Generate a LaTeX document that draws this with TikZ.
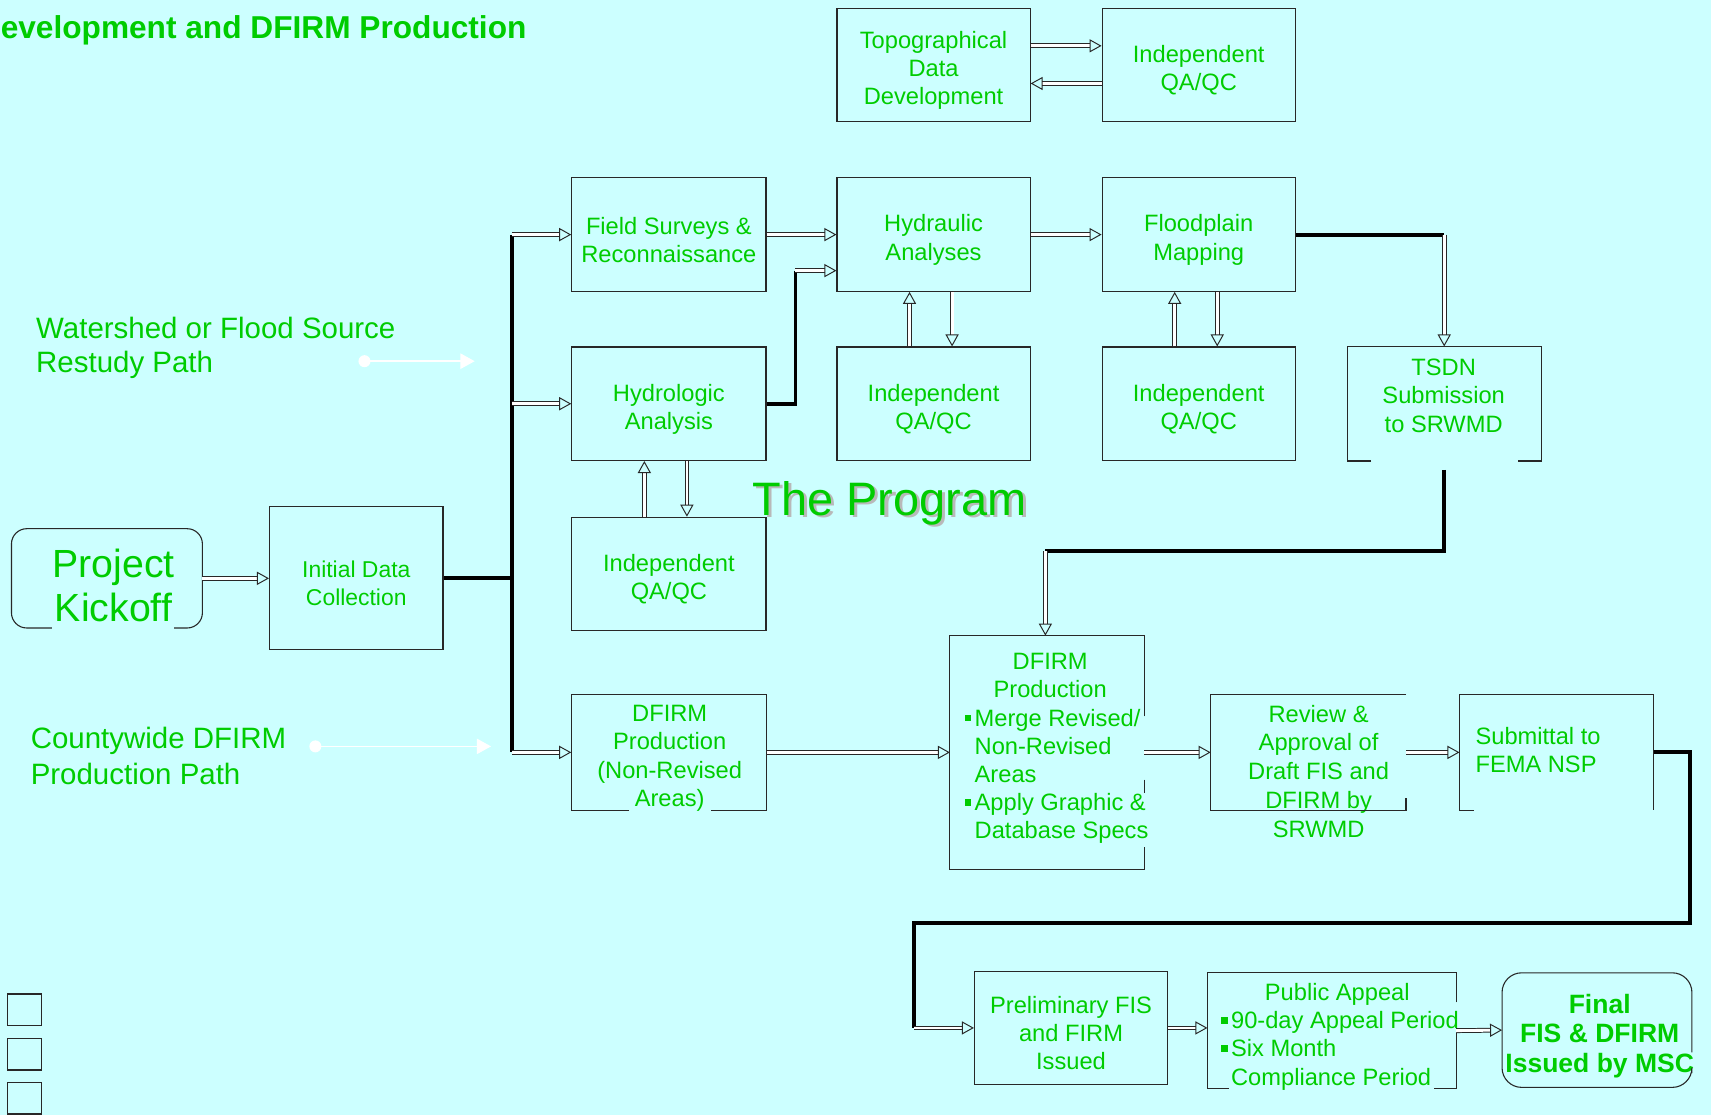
\documentclass[tikz,border=0pt]{standalone}
\usepackage{fontspec}
\setmainfont{Liberation Sans}
\usetikzlibrary{arrows.meta}

\definecolor{bg}{RGB}{204,255,255}
\definecolor{prog}{RGB}{0,204,0}
\definecolor{lineclr}{RGB}{40,40,40}

% small square bullets
\newcommand{\pbul}{\raisebox{4.5pt}{\rule{6pt}{6pt}}\hspace{3pt}}
\newcommand{\pind}{\hspace*{9pt}}
% pushes box text a bit lower
\newcommand{\tup}{\rule{0pt}{25.5pt}}

\tikzset{
  box/.style={draw=lineclr, line width=1pt, minimum width=177pt, minimum height=104pt,
    inner sep=0pt, align=center, text=prog, font=\fontsize{21.7}{25.8}\selectfont},
  openbox/.style={box, draw=none},
  txt/.style={inner sep=0pt, text=prog, font=\fontsize{21.7}{25.8}\selectfont},
  dbl/.style={draw=lineclr, line width=0.9pt, double=white, double distance=2.6pt,
    -{Triangle[open, length=11pt, width=12pt]}},
  busline/.style={line width=3.6pt, black},
  rim/.style={draw=lineclr, line width=1pt},
  pathlabel/.style={inner sep=0pt, anchor=north west, align=left, text=prog,
    font=\fontsize{27}{31}\selectfont},
  whitearrow/.style={white, line width=1.3pt, -{Triangle[length=13pt, width=14pt]}}
}

\begin{document}
\begin{tikzpicture}[x=1pt, y=-1pt]
  % Background
  \fill[bg] (0,0) rectangle (1568,1022);
  \useasboundingbox (0,0) rectangle (1568,1022);

  % Title
  \node[anchor=base west, inner sep=0pt, text=prog, font=\bfseries\fontsize{29}{34}\selectfont] (title) at (0.5,35) {evelopment and DFIRM Production};

  % Path labels
  \node[pathlabel] (wslabel) at (33,290.5) {Watershed or Flood Source\\Restudy Path};
  \node[pathlabel, font=\fontsize{27}{33}\selectfont] (cwlabel) at (28,666.5) {Countywide DFIRM\\Production Path};
  \coordinate (wsdot) at (334,331);
  \coordinate (wstip) at (435,331);
  \coordinate (cwdot) at (289,684);
  \coordinate (cwtip) at (450,684);
  \fill[white] (wsdot) circle (5.5pt);
  \fill[white] (cwdot) circle (5.5pt);
  \draw[whitearrow] (wsdot) -- (wstip);
  \draw[whitearrow] (cwdot) -- (cwtip);

  % Topographic row
  \node[box, minimum height=103pt] (topo) at (855.5,59.5) {\tup Topographical\\Data\\Development};
  \node[box, minimum height=103pt] (topoqa) at (1098.5,59.5) {\tup Independent\\QA/QC};

  % Restudy rows
  \node[box, minimum width=178pt] (field) at (613,215) {\tup Field Surveys \&\\Reconnaissance};
  \node[box] (hydra) at (855.5,215) {\tup Hydraulic\\Analyses};
  \node[box] (flood) at (1098.5,215) {\tup Floodplain\\Mapping};
  \node[box, minimum width=178pt] (hydrol) at (613,370) {\tup Hydrologic\\Analysis};
  \node[box] (qab) at (855.5,370) {\tup Independent\\QA/QC};
  \node[box] (qac) at (1098.5,370) {\tup Independent\\QA/QC};
  \node[openbox] (tsdn) at (1323.5,370) {};
  \node[txt, anchor=north, align=center] (tsdntxt) at (1323,329) {TSDN\\Submission\\to SRWMD};
  \node[box, minimum width=178pt] (qaa) at (613,526) {\tup Independent\\QA/QC};

  % Kickoff
  \node[openbox, minimum width=174pt, minimum height=90pt] (kick) at (98,530) {};
  \node[txt, anchor=north, align=center, font=\fontsize{36}{41}\selectfont] (kicktxt) at (104,502.5) {Project\\Kickoff};
  \node[box, minimum width=159pt, minimum height=131pt, font=\fontsize{21}{26}\selectfont] (init) at (326.5,529.5) {\tup Initial Data\\Collection};

  % DFIRM row
  \node[openbox, minimum width=178pt, minimum height=105pt] (dfnr) at (613,689.5) {};
  \node[txt, anchor=north, align=center, font=\fontsize{21.7}{26}\selectfont] (dfnrtxt) at (613.7,646) {DFIRM\\Production\\(Non-Revised\\Areas)};
  \node[openbox, minimum height=213pt] (dfprod) at (959.5,689.5) {};
  \node[txt, anchor=north west, align=left] (dfprodtxt) at (884,598.7) {\makebox[156.4pt]{DFIRM}\\\makebox[156.4pt]{Production}\\\pbul Merge Revised/\\\pind Non-Revised\\\pind Areas\\\pbul Apply Graphic \&\\\pind Database Specs};
  \node[openbox, minimum width=178pt, minimum height=105pt] (rev) at (1199,689.5) {};
  \node[txt, anchor=north, align=center, font=\fontsize{21.7}{26.3}\selectfont] (revtxt) at (1208.4,646) {Review \&\\Approval of\\Draft FIS and\\DFIRM by\\SRWMD};
  \node[openbox, minimum height=105pt] (sub) at (1426.5,689.5) {};
  \node[txt, anchor=north west, align=left] (subtxt) at (1352,666) {Submittal to\\FEMA NSP};

  % Issue row
  \node[box] (prelim) at (981.5,942) {\tup Preliminary FIS\\and FIRM\\Issued};
  \node[openbox, minimum width=227pt, minimum height=105pt] (pub) at (1220.5,944.5) {};
  \node[txt, anchor=north west, align=left] (pubtxt) at (1119,901) {\makebox[212.6pt]{Public Appeal}\\\pbul 90-day Appeal Period\\\pbul Six Month\\\pind Compliance Period};
  \node[openbox, minimum width=173pt] (final) at (1463.5,944) {};
  \node[txt, anchor=north, align=center, font=\bfseries\fontsize{24.3}{27}\selectfont] (finaltxt) at (1466,910.6) {Final\\FIS \& DFIRM\\Issued by MSC};

  % Broken outlines
  \draw[rim, rounded corners=14pt] ([xshift=37pt]kick.south west) -- (kick.south west) -- (kick.north west) -- (kick.north east) -- (kick.south east) -- ([xshift=-26pt]kick.south east);
  \draw[rim] ([xshift=22pt]tsdn.south west) -- (tsdn.south west) -- (tsdn.north west) -- (tsdn.north east) -- (tsdn.south east) -- ([xshift=-21pt]tsdn.south east);
  \draw[rim] ([xshift=53pt]dfnr.south west) -- (dfnr.south west) -- (dfnr.north west) -- (dfnr.north east) -- (dfnr.south east) -- ([xshift=-51pt]dfnr.south east);
  \draw[rim] ([yshift=-74pt]dfprod.north east) -- (dfprod.north east) -- (dfprod.north west) -- (dfprod.south west) -- (dfprod.south east) -- ([yshift=20pt]dfprod.south east);
  \draw[rim] ([yshift=-132pt]dfprod.north east) -- ([yshift=-144pt]dfprod.north east);
  \draw[rim] (rev.north east) -- (rev.north west) -- (rev.south west) -- (rev.south east) -- ([yshift=11pt]rev.south east);
  \draw[rim] ([xshift=13pt]sub.south west) -- (sub.south west) -- (sub.north west) -- (sub.north east) -- (sub.south east);
  \draw[rim] ([yshift=-27pt]pub.north east) -- (pub.north east) -- (pub.north west) -- (pub.south west) -- ([xshift=20pt]pub.south west);
  \draw[rim] ([yshift=-55pt]pub.north east) -- (pub.south east) -- ([xshift=-20pt]pub.south east);
  \draw[rim, rounded corners=18pt] ([yshift=-73pt]final.north east) -- (final.north east) -- (final.north west) -- (final.south west) -- (final.south east) -- ([yshift=13pt]final.south east);

  % The Program
  \node[anchor=base west, inner sep=0pt, text=gray!55, font=\fontsize{43}{50}\selectfont] (progshade) at (692.5,474.5) {The Program};
  \node[anchor=base west, inner sep=0pt, text=prog, font=\fontsize{43}{50}\selectfont] (progname) at (689.5,472) {The Program};

  % Bus and heavy lines
  \coordinate (bustop) at (469,215);
  \coordinate (busbot) at (469,689.5);
  \coordinate (jog) at (729,248);
  \coordinate (tsdnout) at ([yshift=-8pt]tsdn.south);
  \coordinate (drop) at (958,505);
  \coordinate (swing) at (1549,846);
  \coordinate (swingb) at (838,846);
  \coordinate (swingc) at (swingb |- prelim.west);
  \draw[busline] (bustop) -- (busbot);
  \draw[busline] (init.east) -- (init.east -| bustop);
  \draw[busline] (hydrol.east) -| (jog);
  \draw[busline] (flood.east) -- (flood.east -| tsdn.north);
  \draw[busline] (tsdnout) |- (drop);
  \draw[busline] (sub.east) -| (swing) -- (swingb) -- (swingc);

  % Arrows
  \draw[dbl] ([yshift=17.5pt]topo.east) -- ([yshift=17.5pt]topoqa.west);
  \draw[dbl] ([yshift=-17pt]topoqa.west) -- ([yshift=-17pt]topo.east);
  \draw[dbl] (kick.east) -- (kick.east -| init.west);
  \draw[dbl] (bustop) -- (field.west);
  \draw[dbl] (bustop |- hydrol.west) -- (hydrol.west);
  \draw[dbl] (busbot) -- (dfnr.west);
  \draw[dbl] (field.east) -- (hydra.west);
  \draw[dbl] (jog) -- (jog -| hydra.west);
  \draw[dbl] (hydra.east) -- (flood.west);
  \draw[dbl] (flood.east -| tsdn.north) -- (tsdn.north);
  \draw[dbl] (drop) -- (drop |- dfprod.north);
  \draw[dbl] (dfnr.east) -- (dfprod.west);
  \draw[dbl] (dfprod.east) -- (rev.west);
  \draw[dbl] (rev.east) -- (sub.west);
  \draw[dbl] (swingc) -- (prelim.west);
  \draw[dbl] (prelim.east) -- (prelim.east -| pub.west);
  \draw[dbl] (pub.east) -- (final.west);
  \foreach \boxup/\boxdn in {hydrol/qaa, hydra/qab, flood/qac}{
    \draw[dbl] ([xshift=67pt]\boxdn.north west) -- ([xshift=67pt]\boxup.south west);
    \draw[dbl] ([xshift=106pt]\boxup.south west) -- ([xshift=106pt]\boxdn.north west);
  }

  % Small squares
  \foreach \y in {911, 951.5, 992}{
    \draw[rim, line width=1.3pt] (7,\y) rectangle (38,\y+29);
  }
\end{tikzpicture}
\end{document}
